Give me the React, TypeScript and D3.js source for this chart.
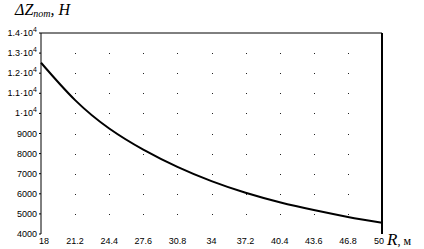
import * as d3 from "d3";

// R, m
const rValues = [18, 21.2, 24.4, 27.6, 30.8, 34, 37.2, 40.4, 43.6, 46.8, 50];
// ΔZ, N
const dzValues = [12520, 10660, 9250, 8200, 7340, 6630, 6050, 5580, 5190, 4850, 4560];

const xTicks = [18, 21.2, 24.4, 27.6, 30.8, 34, 37.2, 40.4, 43.6, 46.8, 50];
const yTicks = [4000, 5000, 6000, 7000, 8000, 9000, 10000, 11000, 12000, 13000, 14000];
const yTickMantissa: Record<number, string> = {
  10000: "1",
  11000: "1.1",
  12000: "1.2",
  13000: "1.3",
  14000: "1.4",
};

const width = 424;
const height = 249;
const margin = { left: 41, right: 42, top: 33, bottom: 15 };

export default function App() {
  const x = d3
    .scaleLinear()
    .domain([18, 50])
    .range([margin.left, width - margin.right]);
  const y = d3
    .scaleLinear()
    .domain([4000, 14000])
    .range([height - margin.bottom, margin.top]);

  const line = d3
    .line<number>()
    .x((_, i) => x(rValues[i]))
    .y((d) => y(d))
    .curve(d3.curveNatural);

  const x0 = x(18);
  const x1 = x(50);
  const y0 = y(4000);
  const y1 = y(14000);

  return (
    <svg
      width={width}
      height={height}
      style={{ position: "absolute", left: 0, top: 0, background: "white" }}
      fontFamily="'Liberation Sans', Arial, sans-serif"
    >
      {/* sparse grid dots */}
      {xTicks.slice(1, -1).map((t) =>
        yTicks.slice(1, -1).map((v) => (
          <rect key={`${t}-${v}`} x={Math.round(x(t))} y={Math.round(y(v))} width={1} height={1} fill="#222" />
        ))
      )}

      {/* frame */}
      <line x1={x0} y1={y1} x2={x1} y2={y1} stroke="#000" strokeWidth={1} />
      <line x1={x0} y1={y1} x2={x0} y2={y0} stroke="#000" strokeWidth={1} />
      <line x1={x1} y1={y1} x2={x1} y2={y0} stroke="#000" strokeWidth={2} />

      {/* left ticks */}
      {yTicks.map((v) => (
        <line key={v} x1={x0 - 2} x2={x0} y1={y(v)} y2={y(v)} stroke="#000" />
      ))}

      {/* curve */}
      <path d={line(dzValues) || ""} fill="none" stroke="#000" strokeWidth={2} />

      {/* y labels */}
      {yTicks.map((v) => {
        const m = yTickMantissa[v];
        if (m) {
          return (
            <text key={v} x={x0 - 4} y={y(v) + 3} fontSize={9} textAnchor="end">
              {m}·10
              <tspan fontSize={7} dy={-4}>4</tspan>
            </text>
          );
        }
        return (
          <text key={v} x={x0 - 4} y={y(v) + 3} fontSize={9} textAnchor="end">
            {v}
          </text>
        );
      })}

      {/* x labels */}
      {xTicks.map((t, i) => (
        <text
          key={t}
          x={x(t) + (i === 0 ? 3 : i === xTicks.length - 1 ? -3 : 0)}
          y={y0 + 10}
          fontSize={9}
          textAnchor="middle"
        >
          {t}
        </text>
      ))}

      {/* axis titles */}
      <text x={15} y={15} fontFamily="'Liberation Serif', 'Times New Roman', serif" fontStyle="italic">
        <tspan fontSize={16}>ΔZ</tspan>
        <tspan fontSize={10} dy={2}>пот</tspan>
        <tspan fontSize={16} dy={-2}>, Н</tspan>
      </text>
      <text x={387} y={245} fontFamily="'Liberation Serif', 'Times New Roman', serif">
        <tspan fontSize={17} fontStyle="italic">R</tspan>
        <tspan fontSize={12}>, м</tspan>
      </text>
    </svg>
  );
}
